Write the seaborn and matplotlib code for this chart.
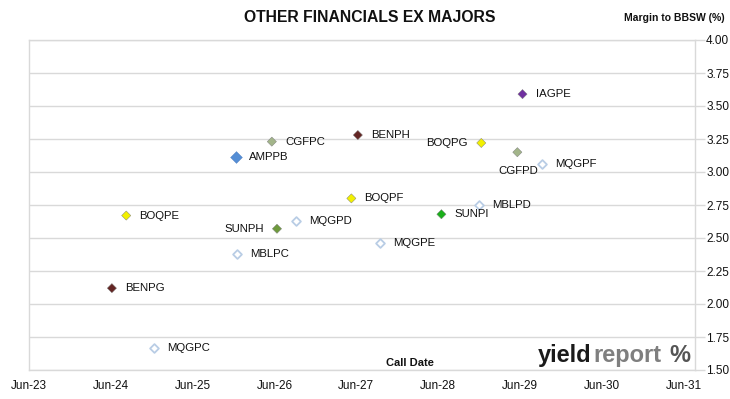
import pandas as pd
import matplotlib
matplotlib.use("Agg")
import matplotlib.pyplot as plt
import matplotlib.dates as mdates
import seaborn as sns

# Securities, call dates and margins
names = ["IAGPE", "BENPH", "CGFPC", "AMPPB", "BOQPG", "CGFPD", "MQGPF", "BOQPF",
         "MBLPD", "SUNPI", "BOQPE", "MQGPD", "SUNPH", "MQGPE", "MBLPC", "BENPG", "MQGPC"]
call_dates = ["2029-06-12", "2027-06-08", "2026-05-20", "2025-12-12", "2028-12-10",
              "2029-05-20", "2029-09-08", "2027-05-10", "2028-12-01", "2028-06-15",
              "2024-08-08", "2026-09-03", "2026-06-12", "2027-09-15", "2025-12-15",
              "2024-06-05", "2024-12-10"]
margins = [3.59, 3.28, 3.23, 3.11, 3.22, 3.15, 3.06, 2.80, 2.75, 2.68,
           2.67, 2.63, 2.57, 2.46, 2.38, 2.12, 1.67]
y_ticks = [1.50, 1.75, 2.00, 2.25, 2.50, 2.75, 3.00, 3.25, 3.50, 3.75, 4.00]

# marker colours per issuer
fill_colors = {
    "IAGPE": "#7030A0", "BENPH": "#632523", "BENPG": "#632523",
    "CGFPC": "#A3B58A", "CGFPD": "#A3B58A", "AMPPB": "#558ED5",
    "BOQPG": "#F2F000", "BOQPF": "#F2F000", "BOQPE": "#F2F000",
    "SUNPI": "#1AAF1A", "SUNPH": "#6E9A3C",
}
hollow = ["MQGPF", "MBLPD", "MQGPD", "MQGPE", "MBLPC", "MQGPC"]
label_side = {"BOQPG": "left", "SUNPH": "left", "CGFPD": "below"}

df = pd.DataFrame({"name": names, "date": pd.to_datetime(call_dates), "margin": margins})

sns.set_theme(style="white")
plt.rcParams["font.family"] = ["Liberation Sans", "DejaVu Sans"]

fig = plt.figure(figsize=(7.3, 3.99), dpi=100)
ax = fig.add_axes([29 / 730, 1 - 370 / 399, (695 - 29) / 730, (370 - 40) / 399])

grid_c = "#D9D9D9"
ax.set_ylim(1.5, 4.0)
ax.set_yticks(y_ticks)
ax.yaxis.grid(True, color=grid_c, linewidth=1)
ax.xaxis.grid(False)
ax.set_axisbelow(True)

filled = df[~df["name"].isin(hollow)]
sns.scatterplot(data=filled[filled["name"] != "AMPPB"], x="date", y="margin", hue="name",
                palette=fill_colors, marker="D", s=22, edgecolor="#777777",
                linewidth=0.3, legend=False, ax=ax, zorder=3)
sns.scatterplot(data=filled[filled["name"] == "AMPPB"], x="date", y="margin", hue="name",
                palette=fill_colors, marker="D", s=36, edgecolor="#4A7CBF",
                linewidth=0.3, legend=False, ax=ax, zorder=3)
sns.scatterplot(data=df[df["name"].isin(hollow)], x="date", y="margin", marker="D", s=20,
                color="white", edgecolor="#B9CDE5", linewidth=1.3, legend=False,
                ax=ax, zorder=3)

for _, r in df.iterrows():
    side = label_side.get(r["name"], "right")
    if side == "right":
        off, ha = (9.5, 0), "left"
    elif side == "left":
        off, ha = (-9.5, 0), "right"
    else:
        off, ha = (1, -13.5), "center"
    ax.annotate(r["name"], (r["date"], r["margin"]), xytext=off, textcoords="offset points",
                ha=ha, va="center", fontsize=8.2, color="#111111")

ax.set_xlim(pd.Timestamp("2023-06-01"), pd.Timestamp("2031-07-22"))
ax.xaxis.set_major_locator(mdates.YearLocator(month=6))
ax.xaxis.set_major_formatter(mdates.DateFormatter("%b-%y"))
ax.yaxis.tick_right()
ax.yaxis.set_major_formatter(matplotlib.ticker.FormatStrFormatter("%.2f"))
ax.tick_params(axis="y", which="major", right=True, length=7, width=1, color=grid_c,
               labelsize=8.5, labelcolor="#111111", pad=1)
ax.tick_params(axis="x", bottom=False, labelsize=8.5, labelcolor="#111111", pad=1)
ax.set_xlabel("")
ax.set_ylabel("")
for sp in ax.spines.values():
    sp.set_color(grid_c)
    sp.set_linewidth(1)

fig.text(370 / 730, 1 - 18 / 399, "OTHER FINANCIALS EX MAJORS", ha="center", va="center",
         fontsize=11.3, fontweight="bold", color="#111111")
fig.text(725 / 730, 1 - 18 / 399, "Margin to BBSW (%)", ha="right", va="center",
         fontsize=7.5, fontweight="bold", color="#111111")
fig.text(410 / 730, 1 - 363 / 399, "Call Date", ha="center", va="center",
         fontsize=8, fontweight="bold", color="#111111")

# yieldreport logo
fig.text(591 / 730, 1 - 362 / 399, "yield", ha="right", va="baseline", fontsize=17,
         fontweight="bold", color="#1A1A1A")
fig.text(593 / 730, 1 - 362 / 399, "report", ha="left", va="baseline", fontsize=17,
         fontweight="bold", color="#7F7F7F")
fig.text(680 / 730, 1 - 362 / 399, "%", ha="center", va="baseline", fontsize=17,
         fontweight="bold", color="#555555")

fig.savefig("out.png", dpi=100)
